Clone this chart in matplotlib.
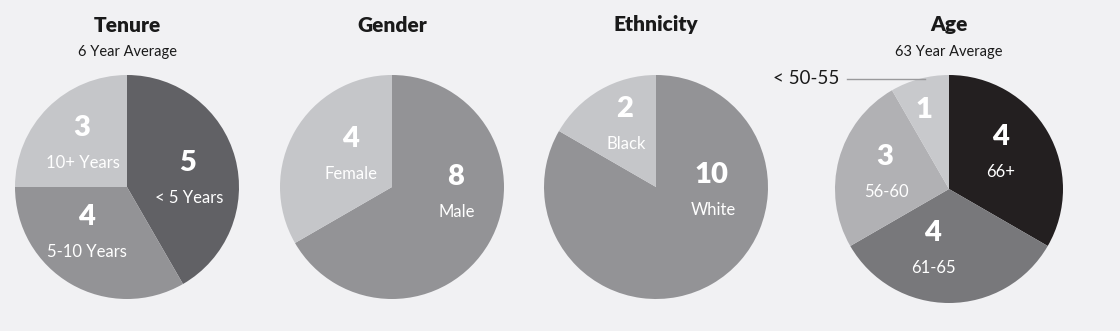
import matplotlib.pyplot as plt

plt.rcParams['font.family'] = ['Lato', 'DejaVu Sans']

# data
tenure_vals = [5, 4, 3]
tenure_labels = ['< 5 Years', '5-10 Years', '10+ Years']
gender_vals = [8, 4]
gender_labels = ['Male', 'Female']
eth_vals = [10, 2]
eth_labels = ['White', 'Black']
age_vals = [4, 4, 3, 1]
age_labels = ['66+', '61-65', '56-60', '< 50-55']

bg = '#f1f1f3'
W, H = 1120, 331

fig = plt.figure(figsize=(11.2, 3.31), dpi=100, facecolor=bg)
ax = fig.add_axes([0, 0, 1, 1])
ax.set_xlim(0, W)
ax.set_ylim(0, H)
ax.set_aspect('equal')
ax.axis('off')

# each panel: values, labels, colors, center (px, from top), radius, title, subtitle,
# label offsets (dx, dy in px from centre, to the number)
panels = [
    (tenure_vals, tenure_labels, ['#616165', '#939396', '#c5c6c9'], (127, 187), 112,
     'Tenure', '6 Year Average', [(61, -24), (-41, 30), (-45, -59)]),
    (gender_vals, gender_labels, ['#939396', '#c5c6c9'], (392, 187), 112,
     'Gender', None, [(64, -10), (-42, -48)]),
    (eth_vals, eth_labels, ['#939396', '#c5c6c9'], (656, 187), 112,
     'Ethnicity', None, [(56, -12), (-31, -78)]),
    (age_vals, age_labels, ['#231f20', '#78787b', '#b1b1b4', '#c8c9cc'], (949, 189), 114,
     'Age', '63 Year Average', [(51, -52), (-17, 44), (-64, -32), (-25, -79)]),
]

for vals, labels, colors, (cx, cy), r, title, sub, offs in panels:
    ax.pie(vals, colors=colors, startangle=90, counterclock=False,
           center=(cx, H - cy), radius=r, wedgeprops=dict(linewidth=0),
           frame=True)
    ax.text(cx, H - 25, title, ha='center', va='center', fontsize=15,
            fontweight='heavy', color='#1a1a1a')
    if sub:
        ax.text(cx, H - 52, sub, ha='center', va='center', fontsize=10.5,
                color='#1a1a1a')
    for i, (v, lab) in enumerate(zip(vals, labels)):
        dx, dy = offs[i]
        ax.text(cx + dx, H - cy - dy, str(v), ha='center', va='center',
                fontsize=21, fontweight='heavy', color='white')
        if lab != '< 50-55':
            ax.text(cx + dx + 1, H - cy - dy - 35, lab, ha='center', va='center',
                    fontsize=12, color='white')

# callout for the smallest age slice
ax.text(839, H - 79, '< 50-55', ha='right', va='center', fontsize=13.5,
        color='#1a1a1a')
ax.plot([847, 925], [H - 79, H - 79], color='#9a9a9c', linewidth=1)

ax.set_xlim(0, W)
ax.set_ylim(0, H)
ax.axis('off')
fig.savefig('out.png', dpi=100, facecolor=bg)
